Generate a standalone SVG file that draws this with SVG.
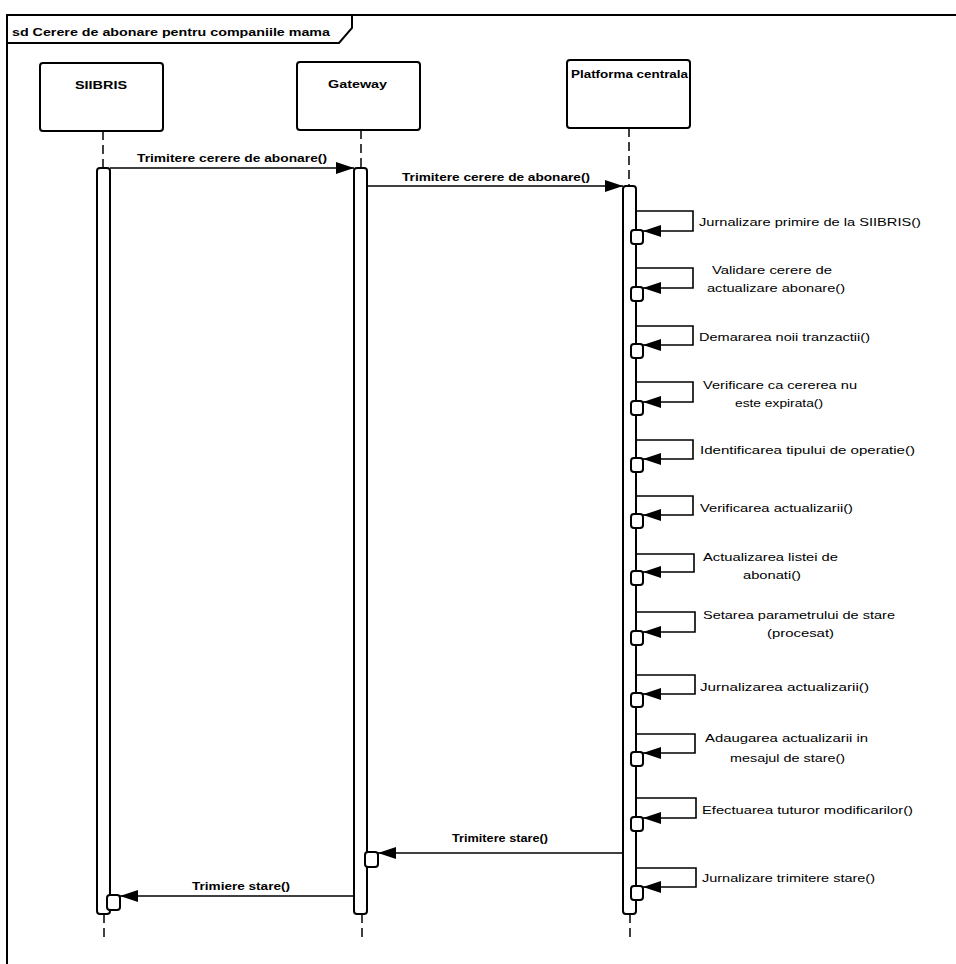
<svg xmlns="http://www.w3.org/2000/svg" width="956" height="964" viewBox="0 0 956 964">
<style>
  .frame{fill:none;stroke:#000;stroke-width:2}
  .head{fill:#fff;stroke:#000;stroke-width:2}
  .bar{fill:#fff;stroke:#000;stroke-width:2}
  .life{stroke:#000;stroke-width:1.5;stroke-dasharray:9 5;fill:none}
  .msg{fill:none;stroke:#000;stroke-width:1.6;marker-end:url(#arr)}
  .sq{fill:#fff;stroke:#000;stroke-width:2}
  .b{font-family:"Liberation Sans",Arial,sans-serif;font-weight:bold;font-size:11px;fill:#000}
  .t{font-family:"Liberation Sans",Arial,sans-serif;font-size:11px;fill:#000}
</style>
<defs>
  <marker id="arr" markerUnits="userSpaceOnUse" viewBox="0 0 18 12" markerWidth="18" markerHeight="12" refX="18" refY="6" orient="auto">
    <path d="M0,0 L18,6 L0,12 z" fill="#000"/>
  </marker>
</defs>
<rect width="956" height="964" fill="#fff"/>
<g id="frame">
  <path class="frame" d="M7,964 V15 H956"/>
  <path class="frame" d="M7,43 H339 L352,28 V15"/>
  <text class="b" x="12" y="36" font-size="12" textLength="318" lengthAdjust="spacingAndGlyphs">sd Cerere de abonare pentru companiile mama</text>
</g>
<g id="siibris">
  <rect class="head" x="40" y="63" width="123" height="68" rx="3"/>
  <text class="b" x="75" y="89" font-size="12" textLength="52" lengthAdjust="spacingAndGlyphs">SIIBRIS</text>
  <path class="life" d="M103,131 V168"/>
  <rect class="bar" x="97" y="168" width="13" height="746" rx="3"/>
  <path class="life" d="M104,914 V940"/>
</g>
<g id="gateway">
  <rect class="head" x="297" y="62" width="123" height="68" rx="3"/>
  <text class="b" x="328" y="88" font-size="12" textLength="59" lengthAdjust="spacingAndGlyphs">Gateway</text>
  <path class="life" d="M361,130 V168"/>
  <rect class="bar" x="354" y="168" width="13" height="746" rx="3"/>
  <path class="life" d="M362,914 V940"/>
</g>
<g id="platforma">
  <rect class="head" x="567" y="60" width="123" height="68" rx="3"/>
  <text class="b" x="571" y="78" textLength="117" lengthAdjust="spacingAndGlyphs">Platforma centrala</text>
  <path class="life" d="M629,128 V186"/>
  <rect class="bar" x="623" y="186" width="13" height="728" rx="3"/>
  <path class="life" d="M630,914 V940"/>
</g>
<g id="connectors">
  <path class="msg" d="M110,168 H354"/>
  <text class="b" x="137" y="162" textLength="190" lengthAdjust="spacingAndGlyphs">Trimitere cerere de abonare()</text>
  <path class="msg" d="M367,186 H623"/>
  <text class="b" x="402" y="181" textLength="188" lengthAdjust="spacingAndGlyphs">Trimitere cerere de abonare()</text>

  <path class="msg" d="M636,211 H693 V231 H643"/>
  <rect class="sq" x="631" y="230" width="12" height="14" rx="3"/>
  <text class="t" x="699" y="226" textLength="222" lengthAdjust="spacingAndGlyphs">Jurnalizare primire de la SIIBRIS()</text>

  <path class="msg" d="M636,268 H693 V288 H643"/>
  <rect class="sq" x="631" y="287" width="12" height="14" rx="3"/>
  <text class="t" x="712" y="274" textLength="120" lengthAdjust="spacingAndGlyphs">Validare cerere de</text>
  <text class="t" x="707" y="292" textLength="138" lengthAdjust="spacingAndGlyphs">actualizare abonare()</text>

  <path class="msg" d="M636,326 H693 V345 H643"/>
  <rect class="sq" x="631" y="344" width="12" height="14" rx="3"/>
  <text class="t" x="699" y="341" textLength="171" lengthAdjust="spacingAndGlyphs">Demararea noii tranzactii()</text>

  <path class="msg" d="M636,382 H693 V402 H643"/>
  <rect class="sq" x="631" y="401" width="12" height="14" rx="3"/>
  <text class="t" x="703" y="389" textLength="154" lengthAdjust="spacingAndGlyphs">Verificare ca cererea nu</text>
  <text class="t" x="735" y="407" textLength="88" lengthAdjust="spacingAndGlyphs">este expirata()</text>

  <path class="msg" d="M636,440 H693 V459 H643"/>
  <rect class="sq" x="631" y="458" width="12" height="14" rx="3"/>
  <text class="t" x="700" y="454" textLength="215" lengthAdjust="spacingAndGlyphs">Identificarea tipului de operatie()</text>

  <path class="msg" d="M636,496 H693 V515 H643"/>
  <rect class="sq" x="631" y="514" width="12" height="14" rx="3"/>
  <text class="t" x="700" y="512" textLength="153" lengthAdjust="spacingAndGlyphs">Verificarea actualizarii()</text>

  <path class="msg" d="M636,554 H694 V572 H643"/>
  <rect class="sq" x="631" y="571" width="12" height="14" rx="3"/>
  <text class="t" x="703" y="561" textLength="135" lengthAdjust="spacingAndGlyphs">Actualizarea listei de</text>
  <text class="t" x="743" y="579" textLength="58" lengthAdjust="spacingAndGlyphs">abonati()</text>

  <path class="msg" d="M636,612 H695 V632 H643"/>
  <rect class="sq" x="631" y="631" width="12" height="14" rx="3"/>
  <text class="t" x="703" y="619" textLength="192" lengthAdjust="spacingAndGlyphs">Setarea parametrului de stare</text>
  <text class="t" x="767" y="637" textLength="67" lengthAdjust="spacingAndGlyphs">(procesat)</text>

  <path class="msg" d="M636,675 H695 V694 H643"/>
  <rect class="sq" x="631" y="693" width="12" height="14" rx="3"/>
  <text class="t" x="700" y="691" textLength="169" lengthAdjust="spacingAndGlyphs">Jurnalizarea actualizarii()</text>

  <path class="msg" d="M636,734 H695 V753 H643"/>
  <rect class="sq" x="631" y="752" width="12" height="14" rx="3"/>
  <text class="t" x="705" y="742" textLength="163" lengthAdjust="spacingAndGlyphs">Adaugarea actualizarii in</text>
  <text class="t" x="730" y="762" textLength="115" lengthAdjust="spacingAndGlyphs">mesajul de stare()</text>

  <path class="msg" d="M636,798 H696 V818 H643"/>
  <rect class="sq" x="631" y="817" width="12" height="14" rx="3"/>
  <text class="t" x="702" y="814" textLength="211" lengthAdjust="spacingAndGlyphs">Efectuarea tuturor modificarilor()</text>

  <path class="msg" d="M636,868 H696 V887 H643"/>
  <rect class="sq" x="631" y="886" width="12" height="14" rx="3"/>
  <text class="t" x="702" y="882" textLength="173" lengthAdjust="spacingAndGlyphs">Jurnalizare trimitere stare()</text>

  <path class="msg" d="M623,853 H378"/>
  <rect class="sq" x="365" y="852" width="13" height="15" rx="3"/>
  <text class="b" x="452" y="842" textLength="96" lengthAdjust="spacingAndGlyphs">Trimitere stare()</text>

  <path class="msg" d="M354,896 H120"/>
  <rect class="sq" x="107" y="895" width="13" height="15" rx="3"/>
  <text class="b" x="192" y="890" textLength="98" lengthAdjust="spacingAndGlyphs">Trimiere stare()</text>
</g>
</svg>
